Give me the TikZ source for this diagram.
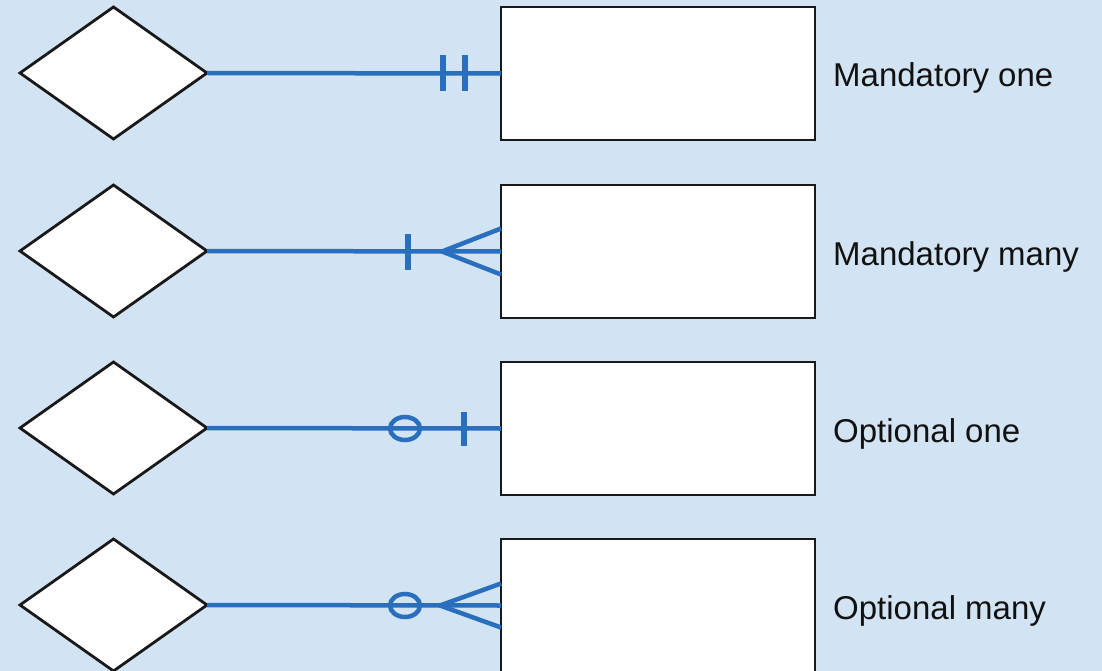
\documentclass[tikz,border=0pt]{standalone}
\usepackage{fontspec}
\setmainfont{Liberation Sans}
\usetikzlibrary{shapes.geometric,calc}
\definecolor{bgblue}{HTML}{D2E4F3}
\definecolor{relblue}{HTML}{2A6EBE}
\definecolor{txt}{HTML}{111111}
\tikzset{
  reldiamond/.style={draw=black!90, line width=2.8pt, fill=white, diamond, aspect=1.417,
    minimum width=187pt, minimum height=132pt, inner sep=0pt, outer sep=0pt},
  entbox/.style={draw=black!90, line width=2.8pt, fill=white, rectangle,
    minimum width=314pt, minimum height=133pt, inner sep=0pt, outer sep=0pt},
  relline/.style={draw=relblue, line width=4.5pt},
  bar/.style={draw=relblue, line width=6pt},
  foot/.style={draw=relblue, line width=4.5pt, line join=round},
  ring/.style={draw=relblue, line width=4.5pt},
  lbl/.style={anchor=base west, text=txt, font=\fontsize{33pt}{38pt}\selectfont, inner sep=0pt}
}
\begin{document}
\begin{tikzpicture}[x=1pt,y=-1pt]
\fill[bgblue] (0,0) rectangle (1102,671);
\useasboundingbox (0,0) rectangle (1102,671);

% Row 1: Mandatory one
\node[reldiamond] (d1) at (113.5,73) {};
\node[entbox] (r1) at (658,73.5) {};
\draw[relline] (d1.east) -- (r1.west);
\draw[bar] ($(r1.west)+(-58,-18)$) -- ($(r1.west)+(-58,18)$);
\draw[bar] ($(r1.west)+(-36,-18)$) -- ($(r1.west)+(-36,18)$);
\node[lbl] (t1) at (833,87) {Mandatory one};

% Row 2: Mandatory many
\node[reldiamond] (d2) at (113.5,251) {};
\node[entbox] (r2) at (658,251.5) {};
\draw[relline] (d2.east) -- (r2.west);
\draw[bar] ($(r2.west)+(-93,-18)$) -- ($(r2.west)+(-93,18)$);
\draw[foot] ($(r2.west)+(0,-23)$) -- ($(r2.west)+(-59,0)$) -- ($(r2.west)+(0,23)$);
\node[lbl] (t2) at (833,265) {Mandatory many};

% Row 3: Optional one
\node[reldiamond] (d3) at (113.5,428) {};
\node[entbox] (r3) at (658,428.5) {};
\draw[relline] (d3.east) -- (r3.west);
\draw[ring] ($(r3.west)+(-96,0)$) ellipse [x radius=15pt, y radius=11.5pt];
\draw[bar] ($(r3.west)+(-37,-17)$) -- ($(r3.west)+(-37,17)$);
\node[lbl] (t3) at (833,442) {Optional one};

% Row 4: Optional many
\node[reldiamond] (d4) at (113.5,605) {};
\node[entbox] (r4) at (658,605.5) {};
\draw[relline] (d4.east) -- (r4.west);
\draw[ring] ($(r4.west)+(-96,0)$) ellipse [x radius=15pt, y radius=11.5pt];
\draw[foot] ($(r4.west)+(0,-22)$) -- ($(r4.west)+(-61,0)$) -- ($(r4.west)+(0,22)$);
\node[lbl] (t4) at (833,619) {Optional many};
\end{tikzpicture}
\end{document}
